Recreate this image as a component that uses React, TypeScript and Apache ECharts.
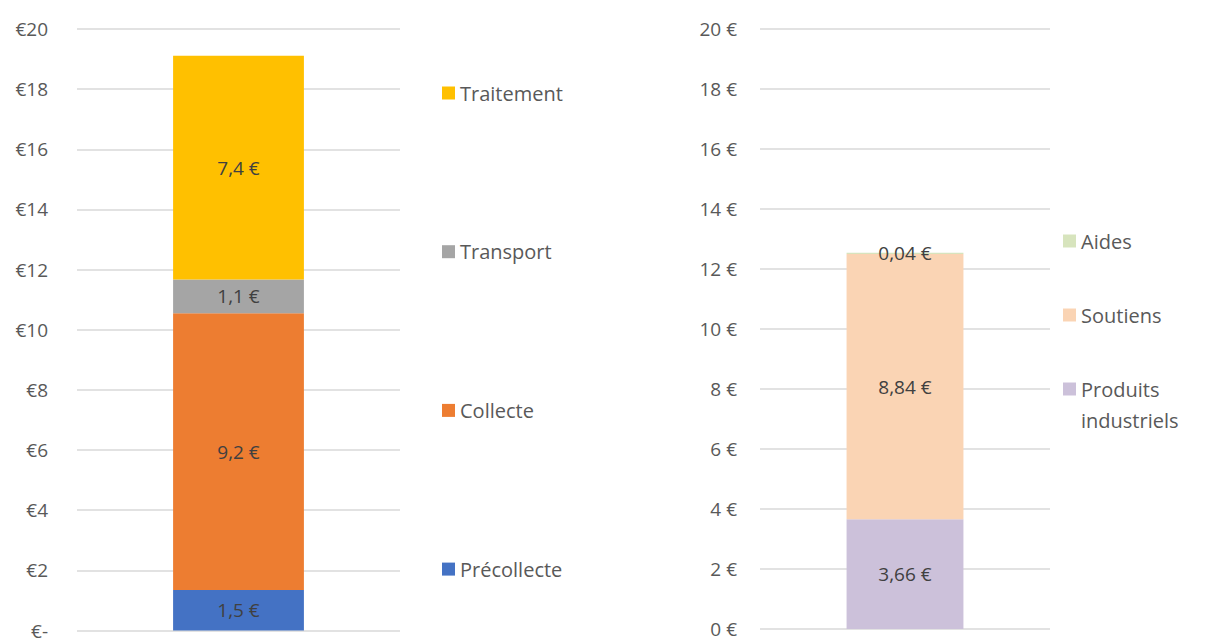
import React, { useEffect, useRef } from "react";
import * as echarts from "echarts";

const categories = [""];
// Left chart: cost breakdown (€)
const precollecte = [1.35];
const collecte = [9.2];
const transport = [1.12];
const traitement = [7.44];
const leftLabels = ["1,5 €", "9,2 €", "1,1 €", "7,4 €"];
// Right chart: revenues (€)
const produitsIndustriels = [3.66];
const soutiens = [8.84];
const aides = [0.04];

const leftTicks = { min: 0, max: 20, interval: 2 };
const rightTicks = { min: 0, max: 20, interval: 2 };

const FONT = "Open Sans";
const TEXT = "#595959";
const LABEL = "#404040";
const GRID = "#D9D9D9";
const AX_FS = 19;
const LG_FS = 20;

export default function App() {
  const ref = useRef<HTMLDivElement>(null);
  useEffect(() => {
    document.body.style.margin = "0";
    if (!ref.current) return;
    const chart = echarts.init(ref.current, undefined, { renderer: "svg" });
    const lbl = (text: string) => ({
      show: true,
      position: "inside",
      color: LABEL,
      fontSize: AX_FS,
      fontFamily: FONT,
      formatter: () => text,
    });
    const rlbl = {
      show: true,
      position: "inside",
      color: LABEL,
      fontSize: AX_FS,
      fontFamily: FONT,
      formatter: (p: any) => p.value.toFixed(2).replace(".", ",") + " €",
    };
    const yAxisCommon = {
      type: "value",
      axisLine: { show: false },
      axisTick: { show: false },
      splitLine: { lineStyle: { color: GRID, width: 1.5 } },
    };
    const xAxisCommon = {
      type: "category",
      data: categories,
      axisLine: { show: false },
      axisTick: { show: false },
      axisLabel: { show: false },
    };
    const legendText = { color: TEXT, fontSize: LG_FS, fontFamily: FONT, lineHeight: 22 };
    chart.setOption({
      animation: false,
      textStyle: { fontFamily: FONT },
      grid: [
        { left: 77, top: 29, width: 323, height: 605 },
        { left: 760, top: 29, width: 290, height: 600 },
      ],
      xAxis: [
        { ...xAxisCommon, gridIndex: 0 },
        { ...xAxisCommon, gridIndex: 1 },
      ],
      yAxis: [
        {
          ...yAxisCommon,
          gridIndex: 0,
          ...leftTicks,
          axisLabel: {
            color: TEXT,
            fontSize: AX_FS,
            fontFamily: FONT,
            lineHeight: 18,
            margin: 29,
            formatter: (v: number) => (v === 0 ? "€-" : "€" + v),
          },
        },
        {
          ...yAxisCommon,
          gridIndex: 1,
          ...rightTicks,
          axisLabel: {
            color: TEXT,
            fontSize: AX_FS,
            fontFamily: FONT,
            lineHeight: 18,
            margin: 23,
            formatter: (v: number) => v + " €",
          },
        },
      ],
      legend: [
        {
          orient: "vertical",
          left: 437,
          top: 77,
          itemWidth: 13,
          itemHeight: 13,
          itemGap: 136.7,
          icon: "rect",
          data: ["Traitement", "Transport", "Collecte", "Précollecte"],
          textStyle: legendText,
        },
        {
          orient: "vertical",
          left: 1058,
          top: 225,
          itemWidth: 13,
          itemHeight: 13,
          itemGap: 52,
          icon: "rect",
          data: ["Aides", "Soutiens"],
          textStyle: legendText,
        },
        {
          orient: "vertical",
          left: 1058,
          top: 337.5,
          itemWidth: 13,
          itemHeight: 13,
          icon: "rect",
          data: ["Produits industriels"],
          formatter: (n: string) => "\n" + n.replace(" ", "\n"),
          textStyle: { ...legendText, lineHeight: 31 },
        },
      ],
      series: [
        { name: "Précollecte", type: "bar", stack: "l", xAxisIndex: 0, yAxisIndex: 0, barWidth: "40.5%", data: precollecte, itemStyle: { color: "#4472C4" }, label: lbl(leftLabels[0]) },
        { name: "Collecte", type: "bar", stack: "l", xAxisIndex: 0, yAxisIndex: 0, barWidth: "40.5%", data: collecte, itemStyle: { color: "#ED7D31" }, label: lbl(leftLabels[1]) },
        { name: "Transport", type: "bar", stack: "l", xAxisIndex: 0, yAxisIndex: 0, barWidth: "40.5%", data: transport, itemStyle: { color: "#A5A5A5" }, label: lbl(leftLabels[2]) },
        { name: "Traitement", type: "bar", stack: "l", xAxisIndex: 0, yAxisIndex: 0, barWidth: "40.5%", data: traitement, itemStyle: { color: "#FFC000" }, label: lbl(leftLabels[3]) },
        { name: "Produits industriels", type: "bar", stack: "r", xAxisIndex: 1, yAxisIndex: 1, barWidth: "40.3%", data: produitsIndustriels, itemStyle: { color: "#CCC1DA" }, label: rlbl },
        { name: "Soutiens", type: "bar", stack: "r", xAxisIndex: 1, yAxisIndex: 1, barWidth: "40.3%", data: soutiens, itemStyle: { color: "#FAD4B4" }, label: rlbl },
        { name: "Aides", type: "bar", stack: "r", xAxisIndex: 1, yAxisIndex: 1, barWidth: "40.3%", data: aides, itemStyle: { color: "#D7E4BD" }, label: rlbl },
      ],
    });
    return () => chart.dispose();
  }, []);
  return <div ref={ref} style={{ width: 1213, height: 640 }} />;
}
